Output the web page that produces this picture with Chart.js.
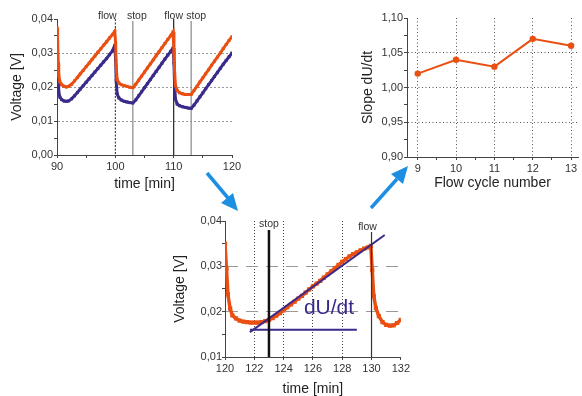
<!DOCTYPE html>
<html>
<head>
<meta charset="utf-8">
<script src="https://cdn.jsdelivr.net/npm/chart.js@4"></script>
<style>
body { margin: 0; background: #fff; }
#wrap { position: relative; width: 582px; height: 396px; overflow: hidden; }
canvas { position: absolute; }
#setas { position: absolute; left: 0; top: 0; }
</style>
</head>
<body>
<div id="wrap">
<canvas id="grafico1" width="245" height="196" style="left:0px;top:0px"></canvas>
<canvas id="grafico2" width="242" height="196" style="left:340px;top:0px"></canvas>
<canvas id="grafico3" width="242" height="200" style="left:170px;top:196px"></canvas>
<svg id="setas" width="582" height="396">
  <line x1="207" y1="173" x2="228" y2="198" stroke="#1d8fe3" stroke-width="3.5"/>
  <polygon points="238,211 221,203 233,193" fill="#1d8fe3"/>
  <line x1="371" y1="208" x2="397" y2="179" stroke="#1d8fe3" stroke-width="3.5"/>
  <polygon points="408,166 391,174 403,184" fill="#1d8fe3"/>
</svg>
</div>
<script>
// ---- grafico 1: tres ciclos flow/stop
var T1 = [90, 90.1, 90.2, 90.3, 90.5, 90.8, 91.2, 91.6, 92, 92.5,
    93, 93.5, 94, 94.5, 95, 95.5, 96, 96.5, 97, 97.5,
    98, 98.5, 99, 99.5, 99.9, 100.05, 100.15, 100.3, 100.6, 101,
    101.5, 102, 102.5, 103, 103.5, 104, 104.5, 105, 105.5, 106,
    106.5, 107, 107.5, 108, 108.5, 109, 109.5, 109.9, 110.05, 110.15,
    110.3, 110.6, 111, 111.5, 112, 112.5, 113, 113.5, 114, 114.5,
    115, 115.5, 116, 116.5, 117, 117.5, 118, 118.5, 119, 119.5,
    120];
var laranja1 = [0.0375, 0.0330, 0.0270, 0.0235, 0.0215, 0.0207, 0.0202, 0.0200, 0.0202, 0.0208,
    0.0218, 0.0228, 0.0239, 0.0249, 0.0260, 0.0270, 0.0281, 0.0291, 0.0302, 0.0312,
    0.0323, 0.0333, 0.0344, 0.0354, 0.0364, 0.0330, 0.0262, 0.0222, 0.0212, 0.0207,
    0.0204, 0.0202, 0.0199, 0.0198, 0.0208, 0.0220, 0.0232, 0.0244, 0.0256, 0.0268,
    0.0280, 0.0292, 0.0304, 0.0316, 0.0328, 0.0340, 0.0351, 0.0362, 0.0300, 0.0250,
    0.0205, 0.0190, 0.0183, 0.0180, 0.0178, 0.0178, 0.0178, 0.0190, 0.0202, 0.0215,
    0.0227, 0.0239, 0.0251, 0.0264, 0.0276, 0.0288, 0.0300, 0.0313, 0.0325, 0.0337,
    0.0348];
var roxo1 = [0.0338, 0.0290, 0.0220, 0.0185, 0.0170, 0.0163, 0.0159, 0.0158, 0.0159, 0.0165,
    0.0174, 0.0184, 0.0194, 0.0204, 0.0214, 0.0224, 0.0234, 0.0244, 0.0254, 0.0264,
    0.0274, 0.0284, 0.0295, 0.0306, 0.0322, 0.0280, 0.0220, 0.0180, 0.0168, 0.0162,
    0.0158, 0.0156, 0.0154, 0.0153, 0.0162, 0.0174, 0.0186, 0.0198, 0.0210, 0.0222,
    0.0234, 0.0246, 0.0258, 0.0270, 0.0282, 0.0294, 0.0305, 0.0315, 0.0270, 0.0210,
    0.0165, 0.0150, 0.0145, 0.0142, 0.0140, 0.0138, 0.0137, 0.0147, 0.0159, 0.0171,
    0.0183, 0.0195, 0.0207, 0.0219, 0.0231, 0.0243, 0.0255, 0.0267, 0.0278, 0.0289,
    0.0300];
var tealT = [90.05, 90.25, 90.3, 100.05, 100.25, 100.3, 110.05, 110.3, 110.35];
var tealV = [0.0345, 0.0210, null, 0.0300, 0.0222, null, 0.0300, 0.0190, null];
var eventos1 = [100, 103, 110, 113];
var eventosTxt1 = ['flow', 'stop', 'flow', 'stop'];
var x1Ticks = [90, 95, 100, 105, 110, 115, 120];
var x1Rot = [90, 100, 110, 120];
var x1RotTxt = ['90', '100', '110', '120'];
var y1Ticks = [0, 0.005, 0.01, 0.015, 0.02, 0.025, 0.03, 0.035, 0.04];
var y1Rot = [0, 0.01, 0.02, 0.03, 0.04];
var y1RotTxt = ['0,00', '0,01', '0,02', '0,03', '0,04'];

// ---- grafico 2: inclinacao por ciclo
var ciclos = [9, 10, 11, 12, 13];
var inclinacao = [1.02, 1.04, 1.03, 1.07, 1.06];
var x2Ticks = [9, 9.5, 10, 10.5, 11, 11.5, 12, 12.5, 13];
var x2Rot = [9, 10, 11, 12, 13];
var x2RotTxt = ['9', '10', '11', '12', '13'];
var y2Ticks = [0.9, 0.925, 0.95, 0.975, 1.0, 1.025, 1.05, 1.075, 1.1];
var y2Rot = [0.9, 0.95, 1.0, 1.05, 1.1];
var y2RotTxt = ['0,90', '0,95', '1,00', '1,05', '1,10'];

// ---- grafico 3: um ciclo com a reta dU/dt
var T3 = [120, 120.1, 120.2, 120.35, 120.5, 120.75, 121, 121.25, 121.5, 121.75,
    122, 122.25, 122.5, 122.75, 123, 123.25, 123.5, 123.75, 124, 124.25,
    124.5, 124.75, 125, 125.25, 125.5, 125.75, 126, 126.25, 126.5, 126.75,
    127, 127.25, 127.5, 127.75, 128, 128.25, 128.5, 128.75, 129, 129.25,
    129.5, 129.75, 129.95, 130.05, 130.15, 130.3, 130.5, 130.75, 131, 131.25,
    131.5, 131.75, 132];
var laranja3 = [0.0350, 0.0295, 0.0238, 0.0207, 0.0192, 0.0185, 0.0180, 0.0178, 0.0177, 0.0176,
    0.0176, 0.0176, 0.0177, 0.0179, 0.0182, 0.0186, 0.0191, 0.0197, 0.0203, 0.0210,
    0.0216, 0.0222, 0.0229, 0.0235, 0.0242, 0.0249, 0.0256, 0.0262, 0.0268, 0.0275,
    0.0282, 0.0289, 0.0296, 0.0303, 0.0310, 0.0316, 0.0322, 0.0327, 0.0331, 0.0335,
    0.0339, 0.0342, 0.0345, 0.0292, 0.0235, 0.0208, 0.0190, 0.0177, 0.0171, 0.0169,
    0.0170, 0.0175, 0.0182];
var retaX = [121.7, 130.9];
var retaY = [0.0155, 0.0369];
var baseX = [121.7, 129.0];
var baseY = [0.016, 0.016];
var eventos3 = [123, 130];
var eventosTxt3 = ['stop', 'flow'];
var x3Ticks = [120, 122, 124, 126, 128, 130, 132];
var x3RotTxt = ['120', '122', '124', '126', '128', '130', '132'];
var y3Ticks = [0.01, 0.015, 0.02, 0.025, 0.03, 0.035, 0.04];
var y3Rot = [0.01, 0.02, 0.03, 0.04];
var y3RotTxt = ['0,01', '0,02', '0,03', '0,04'];

var LARANJA = '#ea4f12';
var ROXO = '#3a2b8a';
var EIXO = '#444';

Chart.defaults.font.family = "'Liberation Sans', Arial, sans-serif";
Chart.defaults.color = '#333';
Chart.defaults.animation = false;
Chart.defaults.plugins.legend.display = false;
Chart.defaults.plugins.tooltip.enabled = false;

function pontos(xs, ys) {
    return xs.map(function (x, i) { return { x: x, y: ys[i] }; });
}

function igual(a, b) { return Math.abs(a - b) < 1e-9; }

function rotulo(valores, textos) {
    return function (v) {
        for (var i = 0; i < valores.length; i++) {
            if (igual(v, valores[i])) return textos[i];
        }
        return '';
    };
}

function marcas(lista) {
    return function (scale) {
        scale.ticks = lista.map(function (v) { return { value: v }; });
    };
}

function grade(lista, cor) {
    return function (ctx) {
        if (!ctx.tick) return 'transparent';
        for (var i = 0; i < lista.length; i++) {
            if (igual(ctx.tick.value, lista[i])) return cor;
        }
        return 'transparent';
    };
}

function titulo(texto, pad) {
    return { display: true, text: texto, color: '#222', font: { size: 14, lineHeight: 1 }, padding: pad };
}

var fonteTick = { size: 11 };

// linhas verticais de flow/stop e os textos em cima
function pluginEventos(xs, textos, estilos, depois) {
    function desenhar(chart) {
        var ctx = chart.ctx;
        var area = chart.chartArea;
        var sx = chart.scales.x;
        ctx.save();
        for (var i = 0; i < xs.length; i++) {
            var px = sx.getPixelForValue(xs[i]);
            var e = estilos[i];
            ctx.strokeStyle = e.cor;
            ctx.lineWidth = e.largura;
            ctx.setLineDash(e.traco);
            ctx.beginPath();
            ctx.moveTo(px, area.top + e.topo);
            ctx.lineTo(px, area.bottom);
            ctx.stroke();
            ctx.setLineDash([]);
            ctx.fillStyle = '#333';
            ctx.font = "10.5px 'Liberation Sans', Arial, sans-serif";
            ctx.textAlign = 'center';
            ctx.textBaseline = 'middle';
            ctx.fillText(textos[i], px + e.dx, e.ty);
        }
        ctx.restore();
    }
    if (depois) return { id: 'eventos', afterDatasetsDraw: desenhar };
    return { id: 'eventos', beforeDatasetsDraw: desenhar };
}

new Chart(document.getElementById('grafico1'), {
    type: 'line',
    data: {
        datasets: [
            { data: pontos(T1, laranja1), borderColor: LARANJA, borderWidth: 3, pointStyle: 'rect',
              pointRadius: 2.1, pointBackgroundColor: LARANJA, pointBorderWidth: 0 },
            { data: pontos(T1, roxo1), borderColor: ROXO, borderWidth: 3, pointStyle: 'rect',
              pointRadius: 2.1, pointBackgroundColor: ROXO, pointBorderWidth: 0 },
            { data: pontos(tealT, tealV), borderColor: '#2aa9a0', borderWidth: 1.5, pointRadius: 0 }
        ]
    },
    options: {
        responsive: false,
        devicePixelRatio: 1,
        layout: { padding: { left: 0, right: 13, top: 19, bottom: 0 } },
        scales: {
            x: {
                type: 'linear', min: 90, max: 120,
                afterBuildTicks: marcas(x1Ticks),
                afterFit: function (s) { s.height = 41; },
                ticks: { callback: rotulo(x1Rot, x1RotTxt), autoSkip: false, maxRotation: 0, padding: 2, font: fonteTick },
                grid: { drawOnChartArea: false, tickLength: 3, tickColor: EIXO },
                border: { color: EIXO, width: 1 },
                title: titulo('time [min]', { top: 0, bottom: 5 })
            },
            y: {
                min: 0, max: 0.04,
                afterBuildTicks: marcas(y1Ticks),
                afterFit: function (s) { s.width = 57; },
                ticks: { callback: rotulo(y1Rot, y1RotTxt), padding: 1, font: fonteTick },
                grid: { color: grade([0.01, 0.02, 0.03], '#999'), tickLength: 3, tickColor: EIXO },
                border: { color: EIXO, width: 1, dash: [2, 2] },
                title: titulo('Voltage [V]', { top: 10.5, bottom: 0 })
            }
        }
    },
    plugins: [pluginEventos(eventos1, eventosTxt1, [
        { cor: '#222', largura: 1, traco: [2, 1.5], topo: 0, dx: -8, ty: 16 },
        { cor: '#888', largura: 1.2, traco: [], topo: 2, dx: 4, ty: 16 },
        { cor: '#222', largura: 1.2, traco: [], topo: 0, dx: 0, ty: 16 },
        { cor: '#888', largura: 1.2, traco: [], topo: 2, dx: 5, ty: 16 }
    ], false)]
});

new Chart(document.getElementById('grafico2'), {
    type: 'line',
    data: {
        datasets: [
            { data: pontos(ciclos, inclinacao), borderColor: LARANJA, borderWidth: 2,
              pointRadius: 3.2, pointBackgroundColor: LARANJA, pointBorderWidth: 0 }
        ]
    },
    options: {
        responsive: false,
        devicePixelRatio: 1,
        layout: { padding: { left: 0, right: 0, top: 18, bottom: 0 } },
        scales: {
            x: {
                type: 'linear', min: 8.72, max: 13.18,
                afterBuildTicks: marcas(x2Ticks),
                afterFit: function (s) { s.height = 39; },
                ticks: { callback: rotulo(x2Rot, x2RotTxt), autoSkip: false, maxRotation: 0, padding: 2, font: fonteTick },
                grid: { color: grade(x2Rot, '#555'), tickLength: 3, tickColor: EIXO },
                border: { color: EIXO, width: 1, dash: [1, 2.5] },
                title: titulo('Flow cycle number', { top: 0, bottom: 6 })
            },
            y: {
                min: 0.9, max: 1.1,
                afterBuildTicks: marcas(y2Ticks),
                afterFit: function (s) { s.width = 67; },
                ticks: { callback: rotulo(y2Rot, y2RotTxt), padding: 1, font: fonteTick },
                grid: { color: grade([0.95, 1.0, 1.05], '#555'), tickLength: 3, tickColor: EIXO },
                border: { color: EIXO, width: 1, dash: [1, 2.5] },
                title: titulo('Slope dU/dt', { top: 21, bottom: 0 })
            }
        }
    }
});

// texto dU/dt dentro do grafico 3
var pluginTexto = {
    id: 'textoDUdt',
    afterDatasetsDraw: function (chart) {
        var ctx = chart.ctx;
        ctx.save();
        ctx.fillStyle = ROXO;
        ctx.font = "21px 'Liberation Sans', Arial, sans-serif";
        ctx.textAlign = 'center';
        ctx.textBaseline = 'middle';
        ctx.fillText('dU/dt', chart.scales.x.getPixelForValue(127.1), chart.scales.y.getPixelForValue(0.0208));
        ctx.restore();
    }
};

new Chart(document.getElementById('grafico3'), {
    type: 'line',
    data: {
        datasets: [
            { data: pontos(retaX, retaY), borderColor: ROXO, borderWidth: 2, pointRadius: 0 },
            { data: pontos(baseX, baseY), borderColor: ROXO, borderWidth: 2, pointRadius: 0 },
            { data: pontos(T3, laranja3), borderColor: LARANJA, borderWidth: 3.5, pointStyle: 'rect',
              pointRadius: 3, pointBackgroundColor: LARANJA, pointBorderWidth: 0 }
        ]
    },
    options: {
        responsive: false,
        devicePixelRatio: 1,
        layout: { padding: { left: 0, right: 10, top: 25, bottom: 0 } },
        scales: {
            x: {
                type: 'linear', min: 120, max: 132,
                afterBuildTicks: marcas(x3Ticks),
                afterFit: function (s) { s.height = 39; },
                ticks: { callback: rotulo(x3Ticks, x3RotTxt), autoSkip: false, maxRotation: 0, padding: 2, font: fonteTick },
                grid: { color: grade([122, 124, 126, 128], '#444'), tickLength: 3, tickColor: EIXO },
                border: { color: EIXO, width: 1, dash: [1, 2] },
                title: titulo('time [min]', { top: 0, bottom: 0 })
            },
            y: {
                min: 0.01, max: 0.04,
                afterBuildTicks: marcas(y3Ticks),
                afterFit: function (s) { s.width = 55; },
                ticks: { callback: rotulo(y3Rot, y3RotTxt), padding: 0, font: fonteTick },
                grid: { color: grade([0.02, 0.03], '#999'), tickLength: 3, tickColor: EIXO },
                border: { color: EIXO, width: 1, dash: [12, 8] },
                title: titulo('Voltage [V]', { top: 3, bottom: 0 })
            }
        }
    },
    plugins: [pluginEventos(eventos3, eventosTxt3, [
        { cor: '#111', largura: 2.5, traco: [], topo: 9, dx: 0, ty: 28 },
        { cor: '#333', largura: 1.2, traco: [], topo: 11, dx: -4, ty: 31 }
    ], true), pluginTexto]
});
</script>
</body>
</html>
